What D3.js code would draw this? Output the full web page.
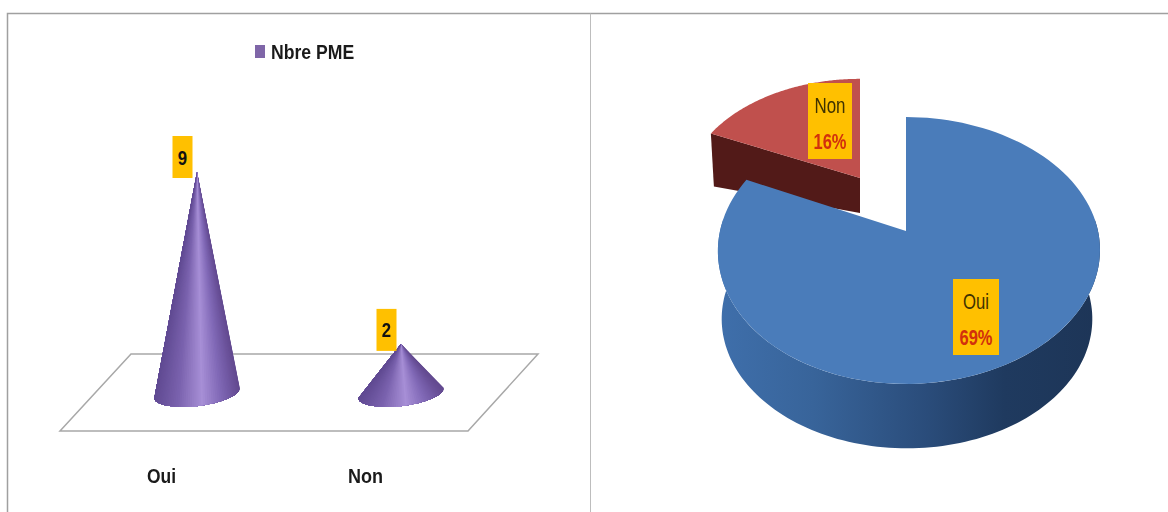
<!DOCTYPE html>
<html><head><meta charset="utf-8">
<script src="https://cdn.jsdelivr.net/npm/d3@7/dist/d3.min.js"></script>
<style>html,body{margin:0;padding:0;background:#fff}svg{display:block;filter:blur(0.5px)}
text{font-family:"Liberation Sans",sans-serif}</style>
</head><body><svg id="c" width="1168" height="512"></svg>
<script>
const categories = ["Oui", "Non"];
const counts = [9, 2];
const pctLabels = ["69%", "16%"];
const seriesName = "Nbre PME";

const svg = d3.select("#c");
const defs = svg.append("defs");
const grad = (id, stops) => {
  const g = defs.append("linearGradient").attr("id", id).attr("x1", 0).attr("x2", 1).attr("y1", 0).attr("y2", 0);
  stops.forEach(([o, c]) => g.append("stop").attr("offset", o).attr("stop-color", c));
};
grad("side", [[0, "#3f6fab"], [.25, "#38649a"], [.55, "#2a4c7a"], [.75, "#1f3a5f"], [1, "#1d3557"]]);

// condensed text helper: the reference face is narrow
const label = (tx, ty, str, size, weight, fill, squeeze, anchor = "middle") =>
  svg.append("text").attr("transform", `translate(${tx},${ty}) scale(${squeeze},1)`)
    .attr("text-anchor", anchor).attr("font-size", size).attr("font-weight", weight).attr("fill", fill).text(str);

// frame
const frame = svg.append("g").attr("stroke", "#a0a0a0").attr("fill", "none");
frame.append("path").attr("d", "M7.5,512V13.5H1168").attr("stroke-width", 1.5);
frame.append("path").attr("d", "M590.5,13.5V512").attr("stroke", "#bdbdbd");

// left chart
const x = d3.scalePoint().domain(categories).range([197, 401]);
const y = d3.scaleLinear().domain([0, 9]).range([393, 172]);
svg.append("path").attr("d", "M131,354H538L468,431H60Z").attr("fill", "#fff").attr("stroke", "#a8a8a8").attr("stroke-width", 1.5);

const shade = d3.scaleLinear().domain([0, .28, .56, .78, 1]).range(["#604a92", "#7a62ae", "#a78fd6", "#8068b6", "#62498f"]);
const rx = 43, ry = 13, rot = -7 * Math.PI / 180, fan = 60;
categories.forEach((c, i) => {
  const cx = x(c), top = y(counts[i]), cy = y(0);
  const base = p => [cx + rx * Math.cos(p) * Math.cos(rot) - ry * Math.sin(p) * Math.sin(rot),
                     cy + rx * Math.cos(p) * Math.sin(rot) + ry * Math.sin(p) * Math.cos(rot)];
  // painter's fan: each sector covers everything still to its left, so no seams show
  svg.append("g").selectAll("path").data(d3.range(0, fan)).join("path")
    .attr("d", s => d3.line()([[cx, top], ...d3.range(s, fan + 1).map(j => base(Math.PI * j / fan))]) + "Z")
    .attr("fill", s => shade((base(Math.PI * (s + .5) / fan)[0] - cx + rx) / (2 * rx)));
  const lx = cx - 14.5;
  svg.append("rect").attr("x", lx - 10).attr("y", top - 36 + i).attr("width", 20).attr("height", 42).attr("fill", "#ffc000");
  label(lx, top - 7, counts[i], 21, 700, "#111", .8);
  label(cx - 35.5, 482.5, c, 21, 700, "#1a1a1a", i ? .86 : .83);
});
svg.append("rect").attr("x", 255).attr("y", 45).attr("width", 10).attr("height", 13).attr("fill", "#7f66a8");
label(271, 58.5, seriesName, 21, 700, "#1a1a1a", .84, "start");

// right chart: perspective pie
const arcs = d3.pie().sort(null)(counts);
const k = 0.146, A = 189, B = 130.6;
const project = (t, o) => {
  const u = Math.sin(t), v = Math.cos(t), w = 1 + k * v;
  return [o.x + o.sx * A * u / w + (o.dx || 0) * u * u, o.y - o.sy * B * v / w];
};
const rim = (a0, a1, o) => d3.range(0, 121).map(i => project(a0 + (a1 - a0) * i / 120, o));
const poly = pts => d3.line()(pts) + "Z";

const topO = {x: 906, y: 231, sx: 1, sy: 1, dx: 3};
const botO = {x: 907, y: 300, sx: .97, sy: .97};
const nonTop = {x: 860, y: 178, sx: .92, sy: .87};
const [oui, non] = arcs;

// exploded small slice, cut face then top
const nonEnd = project(non.startAngle, nonTop);
svg.append("path").attr("fill", "#521a18").attr("d", poly([
  [nonTop.x, nonTop.y], nonEnd, [nonEnd[0] + 3, nonEnd[1] + 53], [nonTop.x, nonTop.y + 35]
]));
svg.append("path").attr("fill", "#c0504d").attr("d", poly([[nonTop.x, nonTop.y], ...rim(non.startAngle, non.endAngle, nonTop)]));

// large slice: outer wall then top
const a0 = Math.PI * .47, a1 = Math.PI * 1.53;
svg.append("path").attr("fill", "url(#side)").attr("d", poly([...rim(a0, a1, topO), ...rim(a0, a1, botO).reverse()]));
svg.append("path").attr("fill", "#4a7cba").attr("d", poly([[topO.x, topO.y], ...rim(oui.startAngle, oui.endAngle, topO)]));

// pie labels
const boxes = [{x: 953, y: 279, w: 46, h: 76, sq: .76}, {x: 808, y: 83, w: 44, h: 76, sq: .77}];
categories.forEach((c, i) => {
  const b = boxes[i], mx = b.x + b.w / 2;
  svg.append("rect").attr("x", b.x).attr("y", b.y).attr("width", b.w).attr("height", b.h).attr("fill", "#ffc000");
  label(mx, b.y + 30, c, 22, 400, "#3f3200", b.sq);
  label(mx, b.y + 66, pctLabels[i], 22, 700, "#d2300c", .75);
});
</script></body></html>
